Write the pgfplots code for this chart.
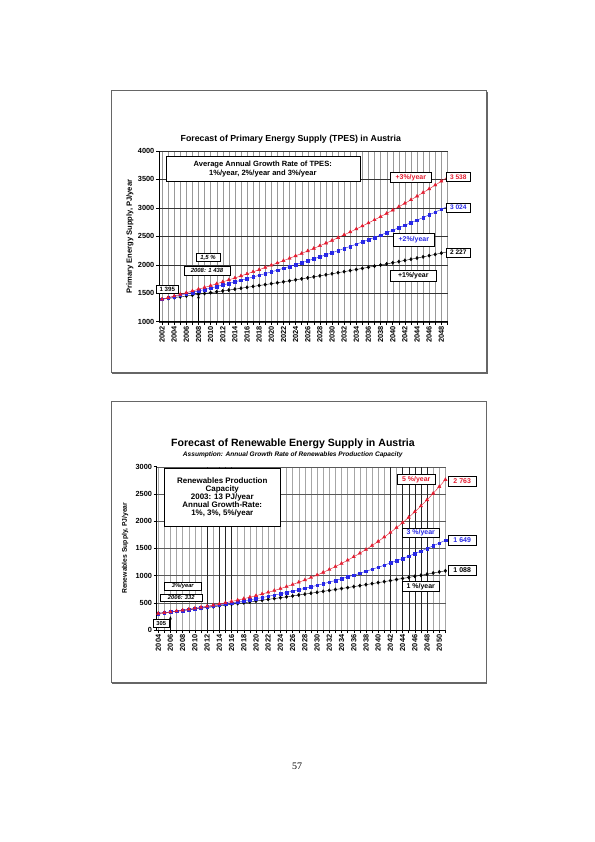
\documentclass[border=0pt]{standalone}
\usepackage{fontspec}
\setmainfont{Liberation Sans}
\newfontfamily\pagefont{Liberation Serif}
\usepackage{pgfplots}
\pgfplotsset{compat=1.18}
\usepackage{pgfplotstable}
\usetikzlibrary{arrows.meta,shadows}
\definecolor{sred}{RGB}{228,28,48}
\definecolor{sblue}{RGB}{40,40,230}
\newcommand\fs[1]{\fontsize{#1}{#1}\selectfont}

\pgfplotstableread{
year a b c
2002 1395 1395 1395
2003 1409 1418 1423
2004 1423 1442 1451
2005 1437 1466 1480
2006 1452 1490 1510
2007 1466 1515 1540
2008 1481 1540 1571
2009 1496 1565 1602
2010 1511 1591 1634
2011 1526 1618 1667
2012 1541 1645 1700
2013 1556 1672 1735
2014 1572 1700 1769
2015 1588 1728 1805
2016 1604 1757 1841
2017 1620 1786 1877
2018 1636 1815 1915
2019 1652 1846 1953
2020 1669 1876 1992
2021 1685 1907 2032
2022 1702 1939 2073
2023 1719 1971 2114
2024 1736 2004 2157
2025 1754 2037 2200
2026 1771 2071 2244
2027 1789 2105 2289
2028 1807 2140 2334
2029 1825 2176 2381
2030 1843 2212 2429
2031 1862 2249 2477
2032 1880 2286 2527
2033 1899 2324 2577
2034 1918 2362 2629
2035 1937 2402 2682
2036 1957 2441 2735
2037 1976 2482 2790
2038 1996 2523 2846
2039 2016 2565 2903
2040 2036 2608 2961
2041 2056 2651 3020
2042 2077 2695 3080
2043 2098 2740 3142
2044 2119 2785 3205
2045 2140 2831 3269
2046 2161 2878 3334
2047 2183 2926 3401
2048 2205 2975 3469
2049 2227 3024 3538
}\tpes

\pgfplotstableread{
year a b c
2004 305 305 305
2005 318 318 319
2006 331 332 333
2007 345 346 349
2008 358 361 364
2009 372 376 381
2010 386 392 399
2011 400 408 417
2012 414 424 437
2013 428 441 457
2014 442 459 479
2015 457 477 501
2016 472 495 525
2017 486 514 549
2018 501 534 575
2019 516 554 603
2020 532 575 631
2021 547 596 662
2022 563 619 693
2023 578 641 726
2024 594 665 761
2025 610 689 798
2026 626 714 836
2027 643 740 877
2028 659 766 919
2029 676 793 964
2030 693 821 1010
2031 710 850 1059
2032 727 880 1111
2033 744 910 1165
2034 762 942 1222
2035 779 975 1282
2036 797 1008 1344
2037 815 1042 1410
2038 834 1078 1479
2039 852 1115 1551
2040 871 1152 1628
2041 889 1191 1707
2042 908 1231 1791
2043 928 1272 1880
2044 947 1315 1972
2045 966 1358 2069
2046 986 1403 2171
2047 1006 1450 2278
2048 1026 1497 2391
2049 1047 1547 2509
2050 1067 1597 2633
2051 1088 1649 2763
}\renew

\tikzset{
  lab/.style={draw=black, line width=0.5pt, fill=white, inner sep=0pt, align=center,
    font=\bfseries\fs{7},
    drop shadow={shadow xshift=0.7pt, shadow yshift=-0.7pt, fill=black!55, opacity=1}},
}
\pgfplotsset{
  common/.style={
    scale only axis, anchor=south west, clip=false,
    axis x line=bottom, axis y line=left,
    axis line style={-, black, line width=0.6pt},
    tick align=outside, major tick length=3bp, minor tick length=3bp,
    tick style={black, line width=0.5pt},
    xmajorgrids, xminorgrids, ymajorgrids,
    xticklabel style={rotate=90, anchor=east, font=\bfseries\fs{7.4}, inner sep=1.5pt},
    yticklabel style={font=\bfseries\fs{7.4}, inner sep=1.5pt},
    /pgf/number format/assume math mode=true,
    /pgf/number format/1000 sep={},
  },
  s1/.style={black, line width=0.4pt, mark=diamond*, mark size=1.7pt, mark options={solid}},
  s2/.style={sblue, line width=0.4pt, mark=square*, mark size=1.35pt, mark options={solid}},
  s3/.style={sred, line width=0.4pt, mark=triangle*, mark size=1.9pt, mark options={solid}},
}

\begin{document}
\begin{tikzpicture}
\fill[white] (0,0) rectangle (595bp,-842bp);
\path[use as bounding box] (0,0) rectangle (595bp,-842bp);

\begin{scope}[x=1bp,y=-1bp]
  % frames
  \draw[black!60, line width=0.6bp] (111,90.7) rectangle (486.7,372.7);
  \draw[black!60, line width=1.3bp] (487.4,91.5) -- (487.4,373.4) -- (112,373.4);
  \draw[black!60, line width=0.6bp] (111,401.7) rectangle (486,682.7);
  \draw[black!60, line width=1.3bp] (486.7,402.5) -- (486.7,683.4) -- (112,683.4);
\end{scope}

% ---------- Chart 1 ----------
\begin{axis}[common,
  at={(159bp,-321.7bp)}, width=289.3bp, height=170.7bp,
  xmin=2001.5, xmax=2049.15, ymin=1000, ymax=4000,
  xtick={2002,2004,...,2048}, minor xtick={2003,2005,...,2049},
  ytick={1000,1500,...,4000},
  major grid style={black!40, line width=0.35pt},
  minor grid style={black!40, line width=0.35pt},
  major y grid style={black!80, line width=0.4pt},
]
\addplot[s1] table[x=year,y=a] {\tpes};
\addplot[s2] table[x=year,y=b] {\tpes};
\addplot[s3] table[x=year,y=c] {\tpes};
\draw[-{Stealth[length=3.5pt,width=3pt]}, line width=0.9pt] (axis cs:2008,1000) -- (axis cs:2008,1470);
\end{axis}

% ---------- Chart 2 ----------
\begin{axis}[common,
  at={(156.7bp,-630bp)}, width=289.3bp, height=163.3bp,
  xmin=2003.75, xmax=2051.1, ymin=0, ymax=3000,
  xtick={2004,2006,...,2050}, minor xtick={2005,2007,...,2051},
  ytick={0,500,...,3000},
  major grid style={black!35, line width=0.35pt},
  minor grid style={black!35, line width=0.35pt},
  major y grid style={black!65, line width=0.4pt},
  extra x ticks={2012,2014,2015,2016,2042,2044,2045,2046,2047,2048},
  extra x tick labels={},
  extra x tick style={grid=major, major grid style={black!85, line width=0.45pt}},
]
\addplot[s1] table[x=year,y=a] {\renew};
\addplot[s2] table[x=year,y=b] {\renew};
\addplot[s3] table[x=year,y=c] {\renew};
\draw[-{Stealth[length=3.5pt,width=3pt]}, line width=0.9pt] (axis cs:2006,0) -- (axis cs:2006,255);
\end{axis}

\begin{scope}[x=1bp,y=-1bp]
  % Chart 1 texts
  \node[font=\bfseries\fs{8.8}] at (290.8,139) {Forecast of Primary Energy Supply (TPES) in Austria};
  \node[rotate=90, font=\bfseries\fs{7.6}] at (130,236.7) {Primary Energy Supply, PJ/year};
  \node[lab, font=\bfseries\fs{7.6}, minimum width=194bp, minimum height=25bp] at (262.8,169.2)
     {Average Annual Growth Rate of TPES:\\[1pt]1\%/year, 2\%/year and 3\%/year};
  \node[lab, text=sred, minimum width=40.3bp, minimum height=10.4bp] at (410.8,177.5) {+3\%/year};
  \node[lab, text=sred, font=\bfseries\fs{6.6}, minimum width=23.3bp, minimum height=9.4bp] at (458.3,177) {3 538};
  \node[lab, text=sblue, font=\bfseries\fs{6.6}, minimum width=23.3bp, minimum height=9.4bp] at (458.3,207.5) {3 024};
  \node[lab, text=sblue, minimum width=41bp, minimum height=13.4bp] at (413.8,240) {+2\%/year};
  \node[lab, font=\bfseries\fs{6.6}, minimum width=23.3bp, minimum height=9.4bp] at (458.3,252.5) {2 227};
  \node[lab, minimum width=46.7bp, minimum height=11bp] at (413.3,275.5) {+1\%/year};
  \node[lab, font=\bfseries\itshape\fs{6}, minimum width=24bp, minimum height=8.4bp] at (208,257.5) {1,5 \%};
  \node[lab, font=\bfseries\itshape\fs{6}, minimum width=46bp, minimum height=8.3bp] at (207,270.8) {2008: 1 438};
  \node[lab, font=\bfseries\fs{6.2}, minimum width=22.7bp, minimum height=8bp] at (167.3,289.3) {1 395};

  % Chart 2 texts
  \node[font=\bfseries\fs{10.6}] at (293,443.3) {Forecast of Renewable Energy Supply in Austria};
  \node[font=\bfseries\itshape\fs{6.6}] at (292.7,455) {Assumption: Annual Growth Rate of Renewables Production Capacity};
  \node[rotate=90, font=\bfseries\fs{6.8}] at (125,548.3) {Renewables Supply, PJ/year};
  \node[lab, font=\bfseries\fs{8}, minimum width=116.7bp, minimum height=58.4bp] at (222.3,497.5)
     {\setlength{\baselineskip}{11.3bp}Renewables Production\\Capacity\\2003: 13 PJ/year\\Annual Growth-Rate:\\1\%, 3\%, 5\%/year};
  \node[lab, text=sred, minimum width=37.3bp, minimum height=9.7bp] at (416.3,479.2) {5 \%/year};
  \node[lab, text=sred, minimum width=27.7bp, minimum height=9.3bp] at (462.2,481.3) {2 763};
  \node[lab, text=sblue, minimum width=37bp, minimum height=9.4bp] at (420.8,533) {3 \%/year};
  \node[lab, text=sblue, minimum width=27.7bp, minimum height=9.3bp] at (462.2,540.3) {1 649};
  \node[lab, minimum width=27.7bp, minimum height=9.3bp] at (462.2,570.3) {1 088};
  \node[lab, minimum width=37bp, minimum height=10bp] at (420.8,586.7) {1 \%/year};
  \node[lab, font=\bfseries\itshape\fs{5.8}, minimum width=37.7bp, minimum height=7.3bp] at (182.8,586.3) {3\%/year};
  \node[lab, font=\bfseries\itshape\fs{5.8}, minimum width=42.3bp, minimum height=7.7bp] at (181.2,597.8) {2006: 332};
  \node[lab, font=\bfseries\fs{5.8}, minimum width=16bp, minimum height=8.3bp] at (161.3,623.2) {305};

  % page number
  \node[font=\pagefont\fs{10}] at (297,766) {57};
\end{scope}
\end{tikzpicture}
\end{document}
